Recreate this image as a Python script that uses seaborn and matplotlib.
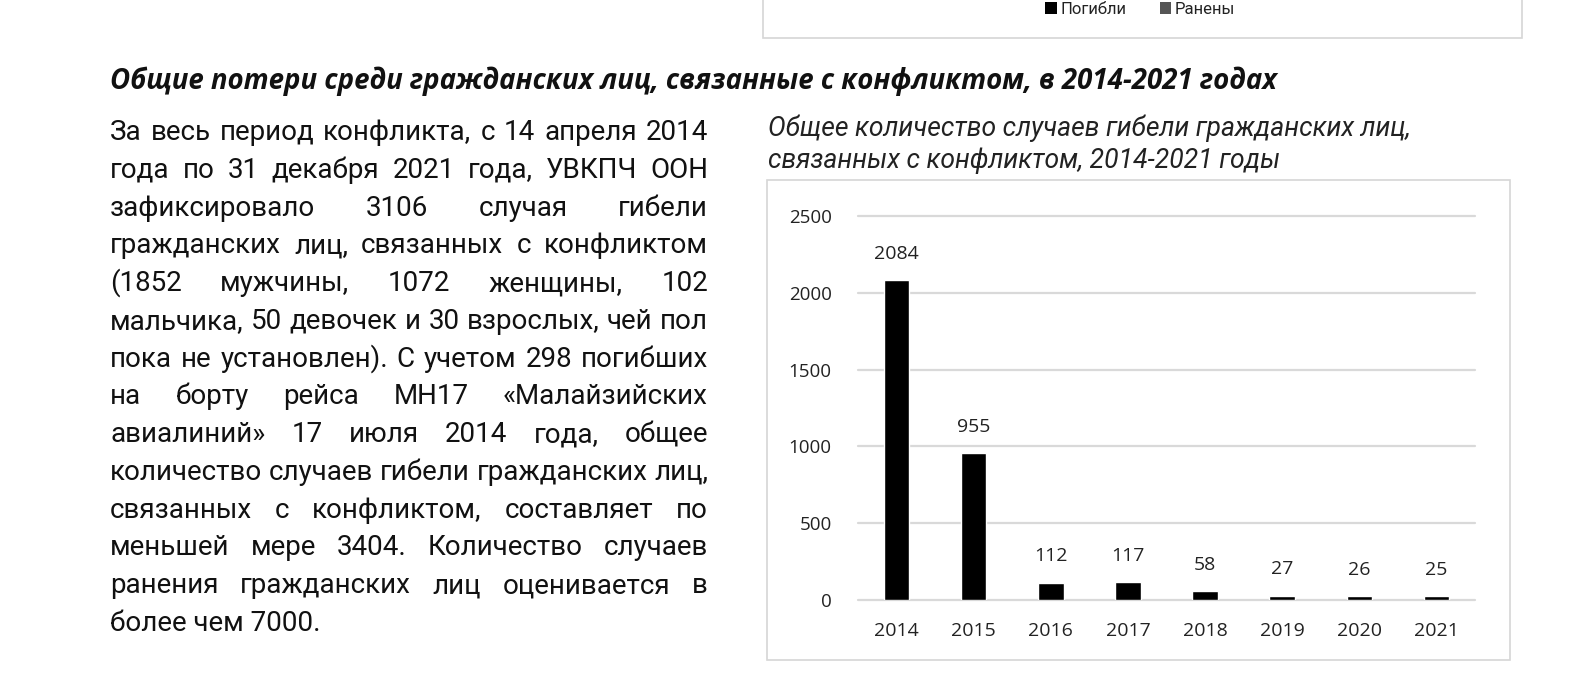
import matplotlib
matplotlib.use("Agg")
import matplotlib.pyplot as plt
from matplotlib.patches import Rectangle
import seaborn as sns
import pandas as pd

# ---------------- data ----------------
years = ["2014", "2015", "2016", "2017", "2018", "2019", "2020", "2021"]
deaths = [2084, 955, 112, 117, 58, 27, 26, 25]
y_ticks = [0, 500, 1000, 1500, 2000, 2500]

heading = "Общие потери среди гражданских лиц, связанные с конфликтом, в 2014-2021 годах"
chart_title = ["Общее количество случаев гибели гражданских лиц,",
               "связанных с конфликтом, 2014-2021 годы"]
paragraph = [
    "За весь период конфликта, с 14 апреля 2014",
    "года по 31 декабря 2021 года, УВКПЧ ООН",
    "зафиксировало 3106 случая гибели",
    "гражданских лиц, связанных с конфликтом",
    "(1852 мужчины, 1072 женщины, 102",
    "мальчика, 50 девочек и 30 взрослых, чей пол",
    "пока не установлен). С учетом 298 погибших",
    "на борту рейса MH17 «Малайзийских",
    "авиалиний» 17 июля 2014 года, общее",
    "количество случаев гибели гражданских лиц,",
    "связанных с конфликтом, составляет по",
    "меньшей мере 3404. Количество случаев",
    "ранения гражданских лиц оценивается в",
    "более чем 7000.",
]
legend_labels = ["Погибли", "Ранены"]

# ---------------- setup ----------------
sns.set_theme(style="white")
TXT = ["Roboto", "Open Sans", "DejaVu Sans"]
HEAD = ["Open Sans", "DejaVu Sans"]
NUM = ["Open Sans", "DejaVu Sans"]
plt.rcParams["font.family"] = TXT

W, H = 1575, 685
fig = plt.figure(figsize=(W / 100, H / 100), dpi=100)
fig.patch.set_facecolor("white")
renderer = fig.canvas.get_renderer()


def fx(px):
    return px / W


def fy(py):
    return 1 - py / H


def width_of(s, size, **kw):
    t = fig.text(0, 0, s, fontsize=size, **kw)
    w = t.get_window_extent(renderer).width
    t.remove()
    return w


def fit(strings, target, **kw):
    base = 20.0
    m = max(width_of(s, base, **kw) for s in strings)
    return base * target / m


# ---------------- top (cut-off) box ----------------
fig.add_artist(Rectangle((fx(763), fy(38)), fx(1522) - fx(763), fy(-10) - fy(38),
                         transform=fig.transFigure, facecolor="white",
                         edgecolor="#d6d6d6", lw=1.2))
fig.add_artist(Rectangle((fx(1045), fy(14)), fx(1057) - fx(1045), fy(2) - fy(14),
                         transform=fig.transFigure, facecolor="black", edgecolor="none"))
fig.text(fx(1061), fy(14), legend_labels[0], fontsize=12, color="#222222",
         va="baseline", ha="left", family=TXT)
fig.add_artist(Rectangle((fx(1160), fy(14)), fx(1171) - fx(1160), fy(2) - fy(14),
                         transform=fig.transFigure, facecolor="#555555", edgecolor="none"))
fig.text(fx(1175), fy(14), legend_labels[1], fontsize=12, color="#222222",
         va="baseline", ha="left", family=TXT)

# ---------------- heading ----------------
hkw = dict(family=HEAD, weight="bold", style="italic")
hsize = fit([heading], 1275 - 110, **hkw)
fig.text(fx(110), fy(89), heading, fontsize=hsize, color="#111111",
         ha="left", va="baseline", **hkw)

# ---------------- paragraph (justified) ----------------
pkw = dict(family=TXT)
left, right = 110, 708
psize = fit(paragraph[:-1], right - left, **pkw)
base0, step = 140, 37.77
for i, line in enumerate(paragraph):
    yb = fy(base0 + i * step)
    if i == len(paragraph) - 1:
        fig.text(fx(left), yb, line, fontsize=psize, color="#111111",
                 ha="left", va="baseline", **pkw)
        continue
    words = line.split(" ")
    widths = [width_of(w, psize, **pkw) for w in words]
    gap = (right - left - sum(widths)) / (len(words) - 1)
    x = left
    for w, wd in zip(words, widths):
        fig.text(fx(x), yb, w, fontsize=psize, color="#111111",
                 ha="left", va="baseline", **pkw)
        x += wd + gap

# ---------------- chart title ----------------
tkw = dict(family=TXT, style="italic")
tsize = fit([chart_title[0]], 1410 - 768, **tkw)
fig.text(fx(768), fy(136), chart_title[0], fontsize=tsize, color="#222222",
         ha="left", va="baseline", **tkw)
fig.text(fx(768), fy(168), chart_title[1], fontsize=tsize, color="#222222",
         ha="left", va="baseline", **tkw)

# ---------------- chart box ----------------
fig.add_artist(Rectangle((fx(767), fy(660)), fx(1510) - fx(767), fy(180) - fy(660),
                         transform=fig.transFigure, facecolor="white",
                         edgecolor="#d6d6d6", lw=1.2, zorder=0))

# ---------------- bar chart ----------------
ax = fig.add_axes([fx(858), fy(600), fx(1475) - fx(858), fy(216) - fy(600)])
ax.set_facecolor("none")
df = pd.DataFrame({"year": years, "deaths": deaths})
sns.barplot(data=df, x="year", y="deaths", color="black", saturation=1,
            width=0.33, ax=ax, zorder=3)
ax.set_ylim(0, 2500)
ax.set_xlim(-0.5, len(years) - 0.5)
ax.set_yticks(y_ticks)
ax.set_yticklabels([str(v) for v in y_ticks])
for v in y_ticks:
    ax.axhline(v, color="#d9d9d9", lw=1.6, zorder=1, clip_on=False)
for s in ax.spines.values():
    s.set_visible(False)
ax.set_xlabel("")
ax.set_ylabel("")
ax.tick_params(axis="y", length=0, pad=19, labelsize=13.5, labelcolor="#222222")
ax.tick_params(axis="x", length=0, pad=16, labelsize=14, labelcolor="#222222")
for lab in ax.get_xticklabels() + ax.get_yticklabels():
    lab.set_family(NUM)
for i, v in enumerate(deaths):
    ax.annotate(str(v), (i, v), xytext=(0, 19), textcoords="offset points",
                ha="center", va="center", fontsize=14, color="#222222",
                family=NUM)

fig.savefig("out.png", dpi=100, facecolor="white")
